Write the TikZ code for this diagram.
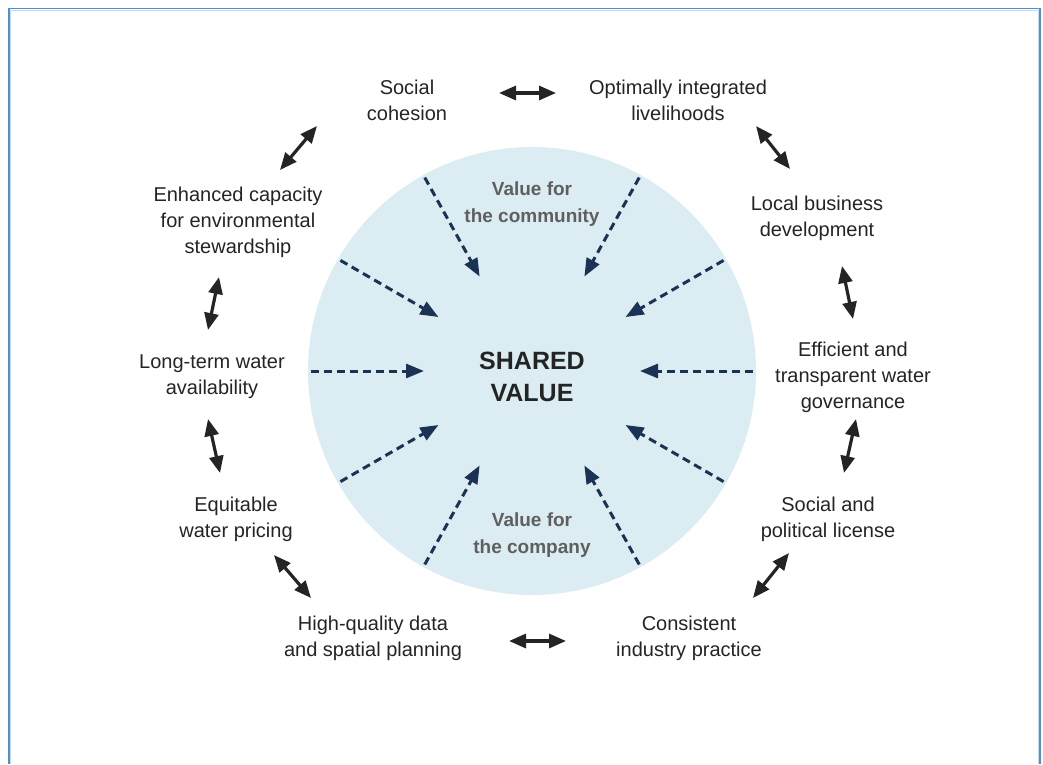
\documentclass[tikz,border=0pt]{standalone}
\usepackage{fontspec}
\setmainfont{Liberation Sans}
\usepackage{tikz}
\usetikzlibrary{arrows.meta, positioning, calc}

\definecolor{hubfill}{RGB}{219,237,242}
\definecolor{navy}{RGB}{26,50,84}
\definecolor{ink}{RGB}{36,36,36}
\definecolor{softgrey}{RGB}{95,95,95}
\definecolor{frameblue}{RGB}{79,145,208}
\definecolor{framelight}{RGB}{196,220,242}

\tikzset{
  goal/.style={align=center, text=ink, font=\fontsize{20}{26}\selectfont},
  side/.style={align=center, text=softgrey, font=\bfseries\fontsize{19}{27}\selectfont},
  twoway/.style={{Triangle[length=17pt,width=14pt]}-{Triangle[length=17pt,width=14pt]}, line width=3.2pt, draw=ink},
  inflow/.style={-{Triangle[length=18pt,width=14pt]}, line width=3pt, draw=navy, dash pattern=on 8pt off 5pt, shorten <=3pt, shorten >=108pt}
}

\begin{document}
\begin{tikzpicture}[x=1pt,y=-1pt]
\useasboundingbox (0,0) rectangle (1043,764);
\draw [framelight, line width=1pt] (10.5,764) -- (10.5,10) -- (1038.5,10) -- (1038.5,764);
\draw [frameblue, line width=1.3pt] (9,764) -- (9,8.5) -- (1040,8.5) -- (1040,764);

\node [circle, fill=hubfill, minimum size=448pt, inner sep=0pt] (hub) at (532,371) {};
\node [align=center, text=ink, font=\bfseries\fontsize{25}{32}\selectfont] (shared) at (532,377) {SHARED\\VALUE};
\node [side] (community) at (532,204) {Value for\\the community};
\node [side] (company) at (532,535) {Value for\\the company};

\node [goal] (cohesion) at (407,100) {Social\\cohesion};
\node [goal] (livelihoods) at (678,100) {Optimally integrated\\livelihoods};
\node [goal] (business) at (817,218) {Local business\\development};
\node [goal] (governance) at (853,377) {Efficient and\\transparent water\\governance};
\node [goal] (license) at (828,519) {Social and\\political license};
\node [goal] (practice) at (689,638) {Consistent\\industry practice};
\node [goal] (planning) at (373,638) {High-quality data\\and spatial planning};
\node [goal] (pricing) at (236,519) {Equitable\\water pricing};
\node [goal] (availability) at (212,377) {Long-term water\\availability};
\node [goal] (stewardship) at (238,222) {Enhanced capacity\\for environmental\\stewardship};

\coordinate (top-a) at (499,93);   \coordinate (top-b) at (556,93);
\coordinate (tr-a) at (756,126);   \coordinate (tr-b) at (790,169);
\coordinate (r1-a) at (842,266);   \coordinate (r1-b) at (853,319);
\coordinate (r2-a) at (856,419);   \coordinate (r2-b) at (844,473);
\coordinate (br-a) at (789,553);   \coordinate (br-b) at (753,598);
\coordinate (bot-a) at (509,641);  \coordinate (bot-b) at (566,641);
\coordinate (bl-a) at (274,555);   \coordinate (bl-b) at (311,598);
\coordinate (l2-a) at (208,419);   \coordinate (l2-b) at (220,473);
\coordinate (l1-a) at (219,277);   \coordinate (l1-b) at (208,330);
\coordinate (tl-a) at (280,170);   \coordinate (tl-b) at (317,126);

\draw [twoway] (top-a) -- (top-b);
\draw [twoway] (tr-a) -- (tr-b);
\draw [twoway] (r1-a) -- (r1-b);
\draw [twoway] (r2-a) -- (r2-b);
\draw [twoway] (br-a) -- (br-b);
\draw [twoway] (bot-a) -- (bot-b);
\draw [twoway] (bl-a) -- (bl-b);
\draw [twoway] (l2-a) -- (l2-b);
\draw [twoway] (l1-a) -- (l1-b);
\draw [twoway] (tl-a) -- (tl-b);

\draw [inflow] (hub.0) -- (hub.center);
\draw [inflow] (hub.30) -- (hub.center);
\draw [inflow] (hub.61) -- (hub.center);
\draw [inflow] (hub.119) -- (hub.center);
\draw [inflow] (hub.150) -- (hub.center);
\draw [inflow] (hub.180) -- (hub.center);
\draw [inflow] (hub.210) -- (hub.center);
\draw [inflow] (hub.241) -- (hub.center);
\draw [inflow] (hub.299) -- (hub.center);
\draw [inflow] (hub.330) -- (hub.center);
\end{tikzpicture}
\end{document}
